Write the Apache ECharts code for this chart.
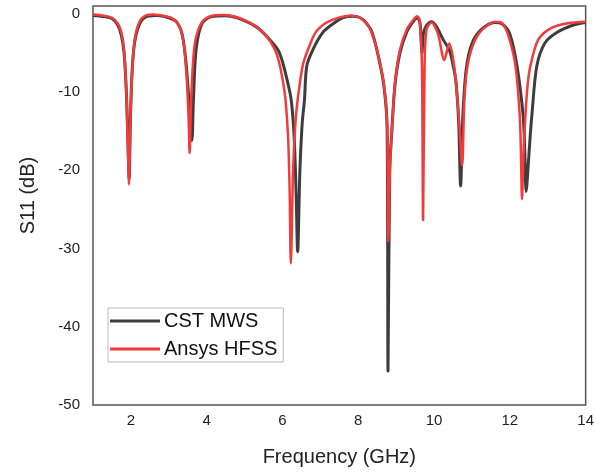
<!DOCTYPE html>
<html>
<head>
    <meta charset="utf-8">
    <title>S11</title>
</head>
<body style="margin:0">
        <div id="main" style="width: 597px;height:472px;"></div>
</body>
<script src="https://cdn.jsdelivr.net/npm/echarts@6/dist/echarts.min.js"></script>
<script>
// CST MWS curve (GHz, dB)
var cstFreq = [1.0,1.3,1.5,1.65,1.75,1.82,1.88,1.92,1.955,1.985,2.03,2.1,2.25,2.45,2.7,3.0,3.2,3.35,3.45,3.53,3.61,3.65,3.72,3.87,4.13,4.5,4.8,5.1,5.4,5.7,5.88,5.98,6.1,6.23,6.31,6.36,6.4,6.46,6.52,6.58,6.64,6.8,7.06,7.3,7.6,7.85,8.05,8.2,8.35,8.5,8.67,8.76,8.785,8.83,8.885,8.97,9.1,9.28,9.45,9.56,9.63,9.68,9.72,9.8,9.93,10.06,10.24,10.4,10.5,10.58,10.65,10.7,10.76,10.85,11.0,11.25,11.6,11.8,12.0,12.19,12.35,12.39,12.43,12.5,12.54,12.58,12.71,12.93,13.27,13.7,14.0];
var cstS11 = [-0.2,-0.35,-0.6,-1.4,-2.8,-5,-10,-16,-21,-14,-7.5,-3.6,-1.1,-0.3,-0.2,-0.5,-1,-2.6,-6,-11,-16.2,-11,-4.6,-1.3,-0.35,-0.25,-0.5,-1.1,-2,-3.5,-4.6,-5.8,-8,-11,-16,-23,-30.4,-20,-14,-11,-6.7,-4.6,-2.4,-1.4,-0.5,-0.3,-0.5,-1.1,-2.2,-4.8,-9,-14.5,-45.7,-20,-15,-9,-5,-2.3,-1,-0.5,-1.2,-5,-2.5,-1.5,-1.0,-1.6,-3.3,-4.6,-6.5,-8.8,-14,-22,-13,-7,-3.8,-2.0,-1.1,-1.3,-2.6,-6.7,-13,-17,-22.7,-18.2,-15.4,-13,-6.7,-3.7,-2.3,-1.4,-1.1];

// Ansys HFSS curve (GHz, dB)
var hfssFreq = [1.0,1.3,1.5,1.65,1.75,1.82,1.88,1.92,1.95,1.98,2.02,2.1,2.23,2.4,2.6,2.9,3.1,3.3,3.4,3.47,3.52,3.55,3.59,3.65,3.72,3.87,4.1,4.4,4.7,5.0,5.3,5.6,5.8,5.9,6.0,6.08,6.15,6.19,6.22,6.28,6.34,6.4,6.53,6.67,6.87,7.1,7.3,7.55,7.8,8.0,8.15,8.3,8.49,8.67,8.76,8.79,8.84,8.885,8.97,9.1,9.28,9.45,9.55,9.62,9.68,9.71,9.75,9.8,9.93,10.1,10.27,10.4,10.53,10.65,10.74,10.8,10.88,11.05,11.28,11.63,11.8,11.97,12.15,12.26,12.29,12.32,12.36,12.41,12.47,12.54,12.75,13.1,13.53,14.0];
var hfssS11 = [-0.1,-0.25,-0.5,-1.2,-2.4,-4.6,-10,-17,-21.8,-15,-8.8,-3.3,-1.0,-0.2,-0.1,-0.3,-0.6,-1.8,-4,-8,-13,-17.8,-11,-5.5,-3,-1.1,-0.3,-0.15,-0.3,-0.8,-1.6,-3,-4.6,-6,-8.3,-11,-16,-23,-31.9,-20,-14,-11,-6.7,-4.6,-2.4,-1.3,-0.8,-0.4,-0.2,-0.4,-0.9,-1.8,-4.6,-8.8,-14,-29.1,-19,-15,-8.8,-4.6,-2,-0.8,-0.3,-0.8,-6.7,-26.4,-6.7,-2,-1.1,-2.5,-5.9,-3.8,-6.7,-13,-19.4,-11,-6.7,-3.7,-2,-1,-1.2,-2.9,-6.7,-13,-17.3,-23.7,-18,-13,-9,-6.7,-3.3,-1.8,-1.2,-1.0];

var xTicks = [2, 4, 6, 8, 10, 12, 14];

function pairs(xs, ys) {
    return xs.map(function (x, i) { return [x, ys[i]]; });
}

var myChart = echarts.init(document.getElementById('main'));

myChart.setOption({
    animation: false,
    color: ['#3d3d3d', '#f23b3b'],
    textStyle: { fontFamily: 'Liberation Sans, Arial, sans-serif', color: '#222' },
    grid: {
        left: 93,
        right: 6,
        top: 6,
        bottom: 65,
        show: true,
        borderColor: '#555',
        borderWidth: 1.5
    },
    legend: {
        orient: 'vertical',
        left: 108,
        top: 308,
        padding: [3, 6, 3, 2],
        itemGap: 8,
        itemWidth: 50,
        itemHeight: 3,
        icon: 'rect',
        borderColor: '#bbb',
        borderWidth: 1,
        textStyle: { fontSize: 20, color: '#111', padding: [0, 0, 0, -1] },
        data: ['CST MWS', 'Ansys HFSS']
    },
    xAxis: {
        type: 'value',
        min: 1,
        max: 14,
        interval: 1,
        name: 'Frequency (GHz)',
        nameLocation: 'middle',
        nameGap: 42,
        nameTextStyle: { fontSize: 20, color: '#222' },
        axisLine: { show: false },
        axisTick: { show: false },
        splitLine: { show: false },
        axisLabel: {
            fontSize: 15,
            color: '#222',
            margin: 8,
            formatter: function (v) { return xTicks.indexOf(v) >= 0 ? String(v) : ''; }
        }
    },
    yAxis: {
        type: 'value',
        min: -50,
        max: 1,
        interval: 10,
        name: 'S11 (dB)',
        nameLocation: 'middle',
        nameGap: 55,
        nameTextStyle: { fontSize: 20, color: '#222', padding: [0, 0, 0, 20] },
        axisLine: { show: false },
        axisTick: { show: false },
        splitLine: { show: false },
        axisLabel: { fontSize: 15, color: '#222', margin: 13, showMaxLabel: false }
    },
    series: [
        {
            name: 'CST MWS',
            type: 'line',
            showSymbol: false,
            smooth: 0.3,
            lineStyle: { width: 3, color: '#3d3d3d' },
            data: pairs(cstFreq, cstS11)
        },
        {
            name: 'Ansys HFSS',
            type: 'line',
            showSymbol: false,
            smooth: 0.3,
            lineStyle: { width: 2.5, color: '#f23b3b' },
            data: pairs(hfssFreq, hfssS11)
        }
    ]
});
</script>
</html>
